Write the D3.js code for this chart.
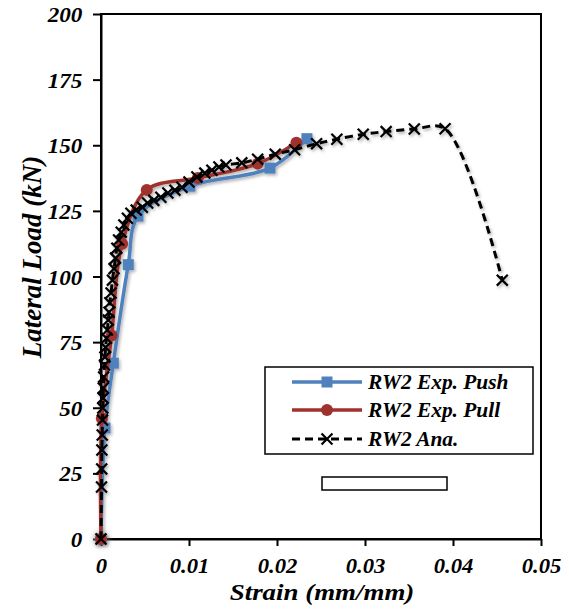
<!DOCTYPE html>
<html>
<head>
<meta charset="utf-8">
<script src="https://cdn.jsdelivr.net/npm/d3@7"></script>
<style>
  html, body { margin: 0; padding: 0; background: #fff; }
  svg { display: block; }
  text { font-family: "Liberation Serif", "Times New Roman", serif; font-weight: bold; font-style: italic; fill: #000; }
</style>
</head>
<body>
<svg id="chart" width="569" height="614"></svg>
<script>
// Experimental push curve (strain, load in kN)
const pushStrain = [0, 0.00045, 0.0014, 0.0031, 0.0042, 0.0101, 0.0192, 0.0234];
const pushLoad   = [0, 42.3, 67, 104.5, 123, 134.4, 141.3, 152.5];

// Experimental pull curve
const pullStrain = [0, 0.0001, 0.0012, 0.0024, 0.0052, 0.011, 0.0178, 0.0222];
const pullLoad   = [0, 46, 77.5, 112.5, 133, 137.5, 143, 151];

// Analytical curve
const anaStrain = [0, 0.00006, 0.00008, 0.0001, 0.00014, 0.00017, 0.0002, 0.00023, 0.00026, 0.0003,
  0.0004, 0.00045, 0.00053, 0.00062, 0.00072, 0.00083, 0.00091, 0.001, 0.00114, 0.0013,
  0.00148, 0.00165, 0.0018, 0.002, 0.0023, 0.0026, 0.003, 0.0034, 0.004, 0.0047,
  0.0053, 0.006, 0.0068, 0.0076, 0.0084, 0.0092, 0.01, 0.0109, 0.0118, 0.0126,
  0.0134, 0.0142, 0.016, 0.0178, 0.0198, 0.022, 0.0245, 0.0268, 0.0298, 0.0324,
  0.0356, 0.0391, 0.0456];
const anaLoad = [0, 19.8, 26.7, 33.9, 39.6, 45.3, 49.9, 53.7, 57.5, 61.7,
  66.3, 69.3, 73, 76.5, 79.6, 83.4, 86.4, 90, 93.7, 98.6,
  103, 107, 110.8, 113.9, 116.9, 119.6, 122.2, 124.1, 125.3, 126.4,
  128, 129, 130.2, 131.8, 132.9, 134, 136, 137.9, 139.4, 140.5,
  141.7, 142.5, 143.3, 144.7, 146.6, 148.3, 150.6, 152.3, 154.2, 155.2,
  156.2, 156.3, 98.6];

const xTicks = [0, 0.01, 0.02, 0.03, 0.04, 0.05];
const xTickLabels = ["0", "0.01", "0.02", "0.03", "0.04", "0.05"];
const yTicks = [0, 25, 50, 75, 100, 125, 150, 175, 200];

const seriesNames = ["RW2 Exp. Push", "RW2 Exp. Pull", "RW2 Ana."];
const seriesColors = ["#4F81BD", "#A0322E", "#000000"];

const svg = d3.select("#chart");
const plotLeft = 101, plotRight = 541, plotTop = 14, plotBottom = 539;

const x = d3.scaleLinear().domain([0, 0.05]).range([plotLeft, plotRight]);
const y = d3.scaleLinear().domain([0, 200]).range([plotBottom, plotTop]);

const defs = svg.append("defs");
// soft shadow under the marks
const f = defs.append("filter").attr("id", "shadow")
  .attr("x", "-20%").attr("y", "-20%").attr("width", "140%").attr("height", "140%");
f.append("feDropShadow").attr("dx", 1.5).attr("dy", 2).attr("stdDeviation", 1.5)
  .attr("flood-color", "#000").attr("flood-opacity", 0.3);
const halo = defs.append("filter").attr("id", "halo")
  .attr("x", "-50%").attr("y", "-50%").attr("width", "200%").attr("height", "200%");
halo.append("feGaussianBlur").attr("stdDeviation", 2.5);

// plot frame
svg.append("rect").attr("x", plotLeft).attr("y", plotTop)
  .attr("width", plotRight - plotLeft).attr("height", plotBottom - plotTop)
  .attr("fill", "none").attr("stroke", "#000").attr("stroke-width", 2);

// axes
const xAxis = d3.axisBottom(x).tickValues(xTicks)
  .tickFormat((d, i) => xTickLabels[i]).tickSizeInner(7).tickSizeOuter(0).tickPadding(12);
const yAxis = d3.axisLeft(y).tickValues(yTicks)
  .tickFormat(d3.format("d")).tickSizeInner(8).tickSizeOuter(0).tickPadding(9);

const gx = svg.append("g").attr("transform", `translate(0,${plotBottom})`).call(xAxis);
const gy = svg.append("g").attr("transform", `translate(${plotLeft},0)`).call(yAxis);
[gx, gy].forEach(g => {
  g.select(".domain").attr("stroke", "#000").attr("stroke-width", 2);
  g.selectAll(".tick line").attr("stroke", "#000").attr("stroke-width", 2);
  g.selectAll(".tick text").attr("font-family", null).attr("font-size", 21).attr("fill", "#000");
});
gy.selectAll(".tick text").attr("dy", "0.36em")
  .attr("transform", "scale(1.1,1)");
gx.selectAll(".tick text").attr("transform", "scale(1.08,1)");

// axis titles
svg.append("text").attr("transform", "translate(322,600) scale(1.17,1)").attr("text-anchor", "middle")
  .attr("font-size", 23).text("Strain (mm/mm)");
svg.append("text").attr("transform", "translate(41,257) rotate(-90)")
  .attr("text-anchor", "middle").attr("font-size", 27).text("Lateral Load (kN)");

const pts = (xs, ys) => xs.map((v, i) => [v, ys[i]]);
const push = pts(pushStrain, pushLoad);
const pull = pts(pullStrain, pullLoad);
const ana = pts(anaStrain, anaLoad);

const line = d3.line().x(d => x(d[0])).y(d => y(d[1])).curve(d3.curveCatmullRom.alpha(0.5));

// grey halo around the common origin point
svg.append("circle").attr("cx", x(0)).attr("cy", y(0)).attr("r", 8)
  .attr("fill", "#999").attr("opacity", 0.6).attr("filter", "url(#halo)");

const marks = svg.append("g").attr("filter", "url(#shadow)");

// push
marks.append("path").attr("d", line(push)).attr("fill", "none")
  .attr("stroke", seriesColors[0]).attr("stroke-width", 3.5);
marks.append("g").selectAll("rect").data(push).join("rect")
  .attr("x", d => x(d[0]) - 5.5).attr("y", d => y(d[1]) - 5.5)
  .attr("width", 11).attr("height", 11).attr("fill", seriesColors[0]);

// pull
marks.append("path").attr("d", line(pull)).attr("fill", "none")
  .attr("stroke", seriesColors[1]).attr("stroke-width", 3.5);
marks.append("g").selectAll("circle").data(pull).join("circle")
  .attr("cx", d => x(d[0])).attr("cy", d => y(d[1])).attr("r", 6)
  .attr("fill", seriesColors[1]);

// analytical
marks.append("path").attr("d", line(ana)).attr("fill", "none")
  .attr("stroke", seriesColors[2]).attr("stroke-width", 3).attr("stroke-dasharray", "8,5");
const cross = d3.symbol().type(d3.symbolX).size(80);
marks.append("g").selectAll("path").data(ana).join("path")
  .attr("transform", d => `translate(${x(d[0])},${y(d[1])})`)
  .attr("d", cross).attr("fill", "none").attr("stroke", "#000").attr("stroke-width", 2.2);

// legend
const lg = svg.append("g");
lg.append("rect").attr("x", 265).attr("y", 367).attr("width", 268).attr("height", 87)
  .attr("fill", "#fff").attr("stroke", "#000").attr("stroke-width", 1.5);
const rowsY = [382, 410, 439];
seriesNames.forEach((name, i) => {
  const yy = rowsY[i];
  const g = lg.append("g");
  const ln = g.append("line").attr("x1", 292).attr("x2", 362).attr("y1", yy).attr("y2", yy)
    .attr("stroke", seriesColors[i]).attr("stroke-width", i === 2 ? 3 : 3.5);
  if (i === 0) g.append("rect").attr("x", 321.5).attr("y", yy - 5.5).attr("width", 11).attr("height", 11).attr("fill", seriesColors[0]);
  if (i === 1) g.append("circle").attr("cx", 327).attr("cy", yy).attr("r", 6).attr("fill", seriesColors[1]);
  if (i === 2) {
    ln.attr("stroke-dasharray", "8,5");
    g.append("path").attr("transform", `translate(327,${yy})`).attr("d", cross)
      .attr("fill", "none").attr("stroke", "#000").attr("stroke-width", 2.2);
  }
  g.append("text").attr("transform", `translate(368,${yy + 7}) scale(1.07,1)`)
    .attr("font-size", 20).text(name);
});

// empty box below the legend
svg.append("rect").attr("x", 322).attr("y", 477).attr("width", 125).attr("height", 13)
  .attr("fill", "#fff").attr("stroke", "#000").attr("stroke-width", 1.5);
</script>
</body>
</html>
